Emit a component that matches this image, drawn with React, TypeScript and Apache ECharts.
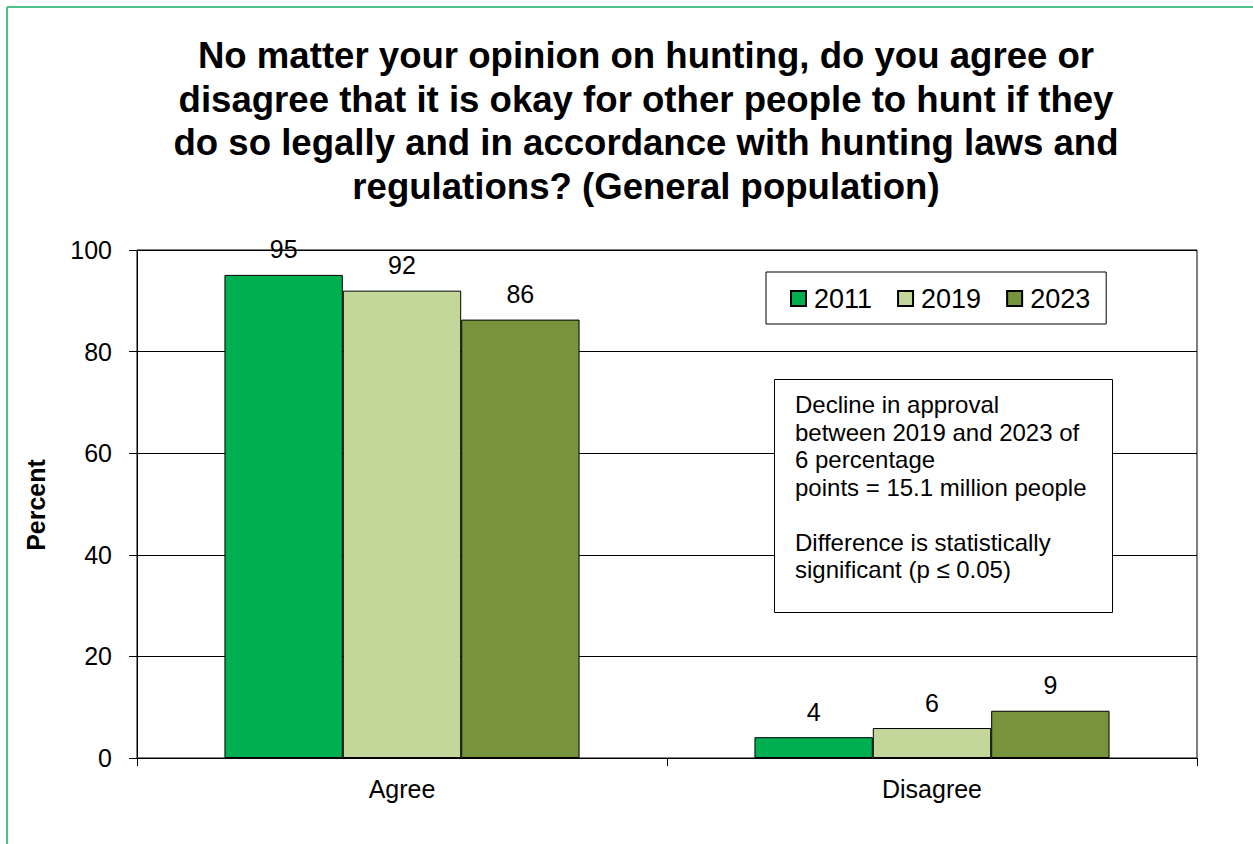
import React, { useEffect, useRef } from "react";
import * as echarts from "echarts";

const categories = ["Agree", "Disagree"];
const years = ["2011", "2019", "2023"];
const values2011 = [95.1, 4.1];
const values2019 = [92.0, 5.9];
const values2023 = [86.3, 9.3];
const seriesValues = [values2011, values2019, values2023];
const colors = ["#00B050", "#C4D79B", "#77933C"];

const titleLines = [
  "No matter your opinion on hunting, do you agree or",
  "disagree that it is okay for other people to hunt if they",
  "do so legally and in accordance with hunting laws and",
  "regulations? (General population)",
];
const noteLines = [
  "Decline in approval",
  "between 2019 and 2023 of",
  "6 percentage",
  "points = 15.1 million people",
  "",
  "Difference is statistically",
  "significant (p ≤ 0.05)",
];
const yAxisName = "Percent";

const FONT = "'Liberation Sans', Arial, sans-serif";

export default function App() {
  const ref = useRef<HTMLDivElement>(null);
  useEffect(() => {
    if (!ref.current) return;
    const chart = echarts.init(ref.current, undefined, { renderer: "svg" });
    chart.setOption({
      animation: false,
      backgroundColor: "#fff",
      textStyle: { fontFamily: FONT, color: "#000" },
      title: {
        text: titleLines.join("\n"),
        left: 641,
        top: 29,
        textAlign: "center",
        textStyle: {
          fontFamily: FONT,
          fontSize: 36.6,
          fontWeight: "bold",
          lineHeight: 43.5,
          color: "#000",
        },
      },
      legend: {
        left: 766,
        top: 272,
        orient: "horizontal",
        padding: [13, 16, 12, 24],
        itemGap: 25,
        itemWidth: 15,
        itemHeight: 15,
        icon: "rect",
        borderColor: "#000",
        borderWidth: 1,
        backgroundColor: "#fff",
        textStyle: { fontFamily: FONT, fontSize: 27, color: "#000", padding: [0, 0, 0, 3] },
        data: years,
      },
      grid: {
        left: 137,
        right: 56,
        top: 250,
        bottom: 86,
        show: true,
        borderColor: "#000",
        borderWidth: 1,
        containLabel: false,
      },
      xAxis: {
        type: "category",
        data: categories,
        axisLine: { show: true, lineStyle: { color: "#000", width: 1 } },
        axisTick: { show: true, length: 8, lineStyle: { color: "#000" } },
        axisLabel: { fontFamily: FONT, fontSize: 25, color: "#000", margin: 18 },
      },
      yAxis: {
        type: "value",
        min: 0,
        max: 100,
        interval: 20,
        axisLine: { show: true, lineStyle: { color: "#000", width: 1 } },
        axisTick: { show: true, length: 8, lineStyle: { color: "#000" } },
        axisLabel: { fontFamily: FONT, fontSize: 25, color: "#000", margin: 25 },
        splitLine: { show: true, lineStyle: { color: "#000", width: 1 } },
      },
      series: years.map((y, i) => ({
        name: y,
        type: "bar",
        data: seriesValues[i],
        barGap: "0%",
        barCategoryGap: "33%",
        itemStyle: { color: colors[i], borderColor: "#000", borderWidth: 1 },
        label: {
          show: true,
          position: "top",
          distance: 13,
          fontFamily: FONT,
          fontSize: 25,
          color: "#000",
          formatter: (p: any) => String(Math.round(p.value)),
        },
      })),
      graphic: [
        {
          type: "line",
          z: 100,
          shape: { x1: 7, y1: 844, x2: 7, y2: 7 },
          style: { stroke: "#50C08A", lineWidth: 2 },
        },
        {
          type: "line",
          z: 100,
          shape: { x1: 7, y1: 7, x2: 1253, y2: 7 },
          style: { stroke: "#50C08A", lineWidth: 2 },
        },
        {
          type: "text",
          z: 100,
          x: 36,
          y: 505,
          rotation: Math.PI / 2,
          style: {
            text: yAxisName,
            fontFamily: FONT,
            fontSize: 25,
            fontWeight: "bold",
            fill: "#000",
            align: "center",
            verticalAlign: "middle",
          },
        },
        {
          type: "rect",
          z: 100,
          shape: { x: 774.5, y: 379.5, width: 338, height: 233 },
          style: { fill: "#fff", stroke: "#000", lineWidth: 1 },
        },
        {
          type: "text",
          z: 101,
          x: 795,
          y: 391,
          style: {
            text: noteLines.join("\n"),
            fontFamily: FONT,
            fontSize: 24,
            lineHeight: 27.5,
            fill: "#000",
            align: "left",
            verticalAlign: "top",
          },
        },
      ],
    });
    return () => chart.dispose();
  }, []);
  return (
    <div
      ref={ref}
      style={{ position: "absolute", left: 0, top: 0, width: 1253, height: 844 }}
    />
  );
}
